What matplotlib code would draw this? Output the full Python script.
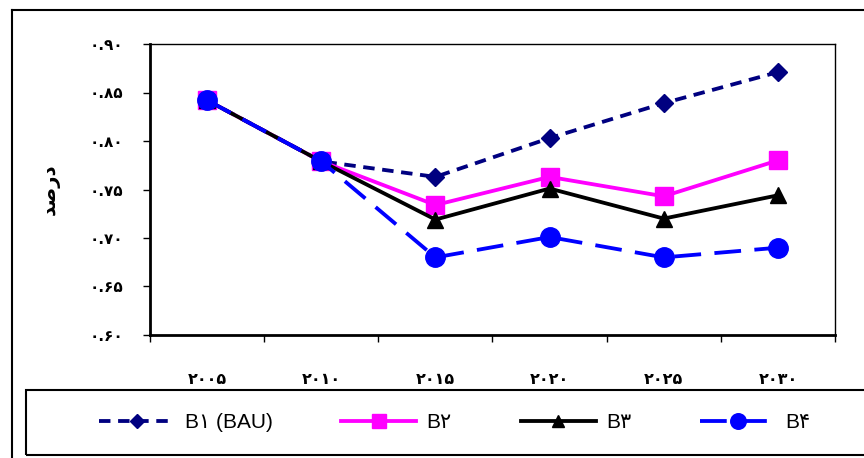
import matplotlib.pyplot as plt
from matplotlib.lines import Line2D
from matplotlib.patches import Rectangle

# Persian digits for tick labels
FA = str.maketrans('0123456789', '۰۱۲۳۴۵۶۷۸۹')

years = ['۲۰۰۵', '۲۰۱۰', '۲۰۱۵', '۲۰۲۰', '۲۰۲۵', '۲۰۳۰']
b1 = [0.842, 0.779, 0.763, 0.803, 0.839, 0.871]
b2 = [0.842, 0.779, 0.734, 0.763, 0.743, 0.780]
b3 = [0.842, 0.779, 0.719, 0.751, 0.720, 0.744]
b4 = [0.842, 0.779, 0.680, 0.701, 0.680, 0.690]
series_names = ['B۱ (BAU)', 'B۲', 'B۳', 'B۴']
y_ticks = [0.60, 0.65, 0.70, 0.75, 0.80, 0.85, 0.90]
# "darsad" written in presentation forms, left-to-right visual order
y_title = '\uFEAA\uFEBB\uFEAD\uFEA9'

fig = plt.figure(figsize=(8.64, 4.58), dpi=100)
ax = fig.add_axes([150 / 864, 1 - 335 / 458, 685 / 864, 291 / 458])

x = range(len(years))
ax.plot(x, b1, color='#000080', lw=2.75, dashes=(3, 2),
        marker='D', ms=9, label=series_names[0])
ax.plot(x, b2, color='#FF00FF', lw=2.75,
        marker='s', ms=13, label=series_names[1])
ax.plot(x, b3, color='black', lw=2.75,
        marker='^', ms=11, label=series_names[2])
ax.plot(x, b4, color='#0000FF', lw=2.75, dashes=(7, 3.5),
        marker='o', ms=14, label=series_names[3])

ax.set_xlim(-0.5, len(years) - 0.5)
ax.set_ylim(0.60, 0.90)

# category labels centred, tick marks on the category boundaries
ax.set_xticks(list(x))
ax.set_xticklabels(years, fontsize=11.5, fontweight='bold', family='DejaVu Sans')
ax.set_xticks([i - 0.5 for i in range(len(years) + 1)], minor=True)
ax.tick_params(axis='x', which='major', length=0, pad=27)
ax.tick_params(axis='x', which='minor', direction='out', length=5, width=1)

ax.set_yticks(y_ticks)
ax.set_yticklabels([f'{v:.2f}'.translate(FA) for v in y_ticks],
                   fontsize=11, fontweight='bold', family='DejaVu Sans')
ax.tick_params(axis='y', direction='out', length=5, width=1, pad=14)

ax.set_ylabel(y_title, fontsize=14, fontweight='bold', family='DejaVu Sans',
              labelpad=22)

for side in ['left', 'bottom']:
    ax.spines[side].set_linewidth(2)
for side in ['top', 'right']:
    ax.spines[side].set_linewidth(1)

# outer chart frame
fig.add_artist(Line2D([12 / 864, 12 / 864], [0, 1 - 10 / 458],
                      color='black', lw=1.5))
fig.add_artist(Line2D([12 / 864, 1], [1 - 10 / 458, 1 - 10 / 458],
                      color='black', lw=1.5))

# legend box along the bottom
fig.add_artist(Rectangle((26 / 864, 3 / 458), 0.99, 65 / 458,
                         transform=fig.transFigure, fill=False,
                         edgecolor='black', lw=1.5))
handles, labels = ax.get_legend_handles_labels()
fig.legend(handles, labels, loc='center', ncol=4, frameon=False,
           bbox_to_anchor=(455 / 864, 1 - 423 / 458),
           prop={'family': ['Liberation Sans', 'DejaVu Sans'], 'size': 15},
           handlelength=3.6, columnspacing=3.3, handletextpad=0.5,
           markerscale=0.8)

fig.savefig('out.png', dpi=100)
